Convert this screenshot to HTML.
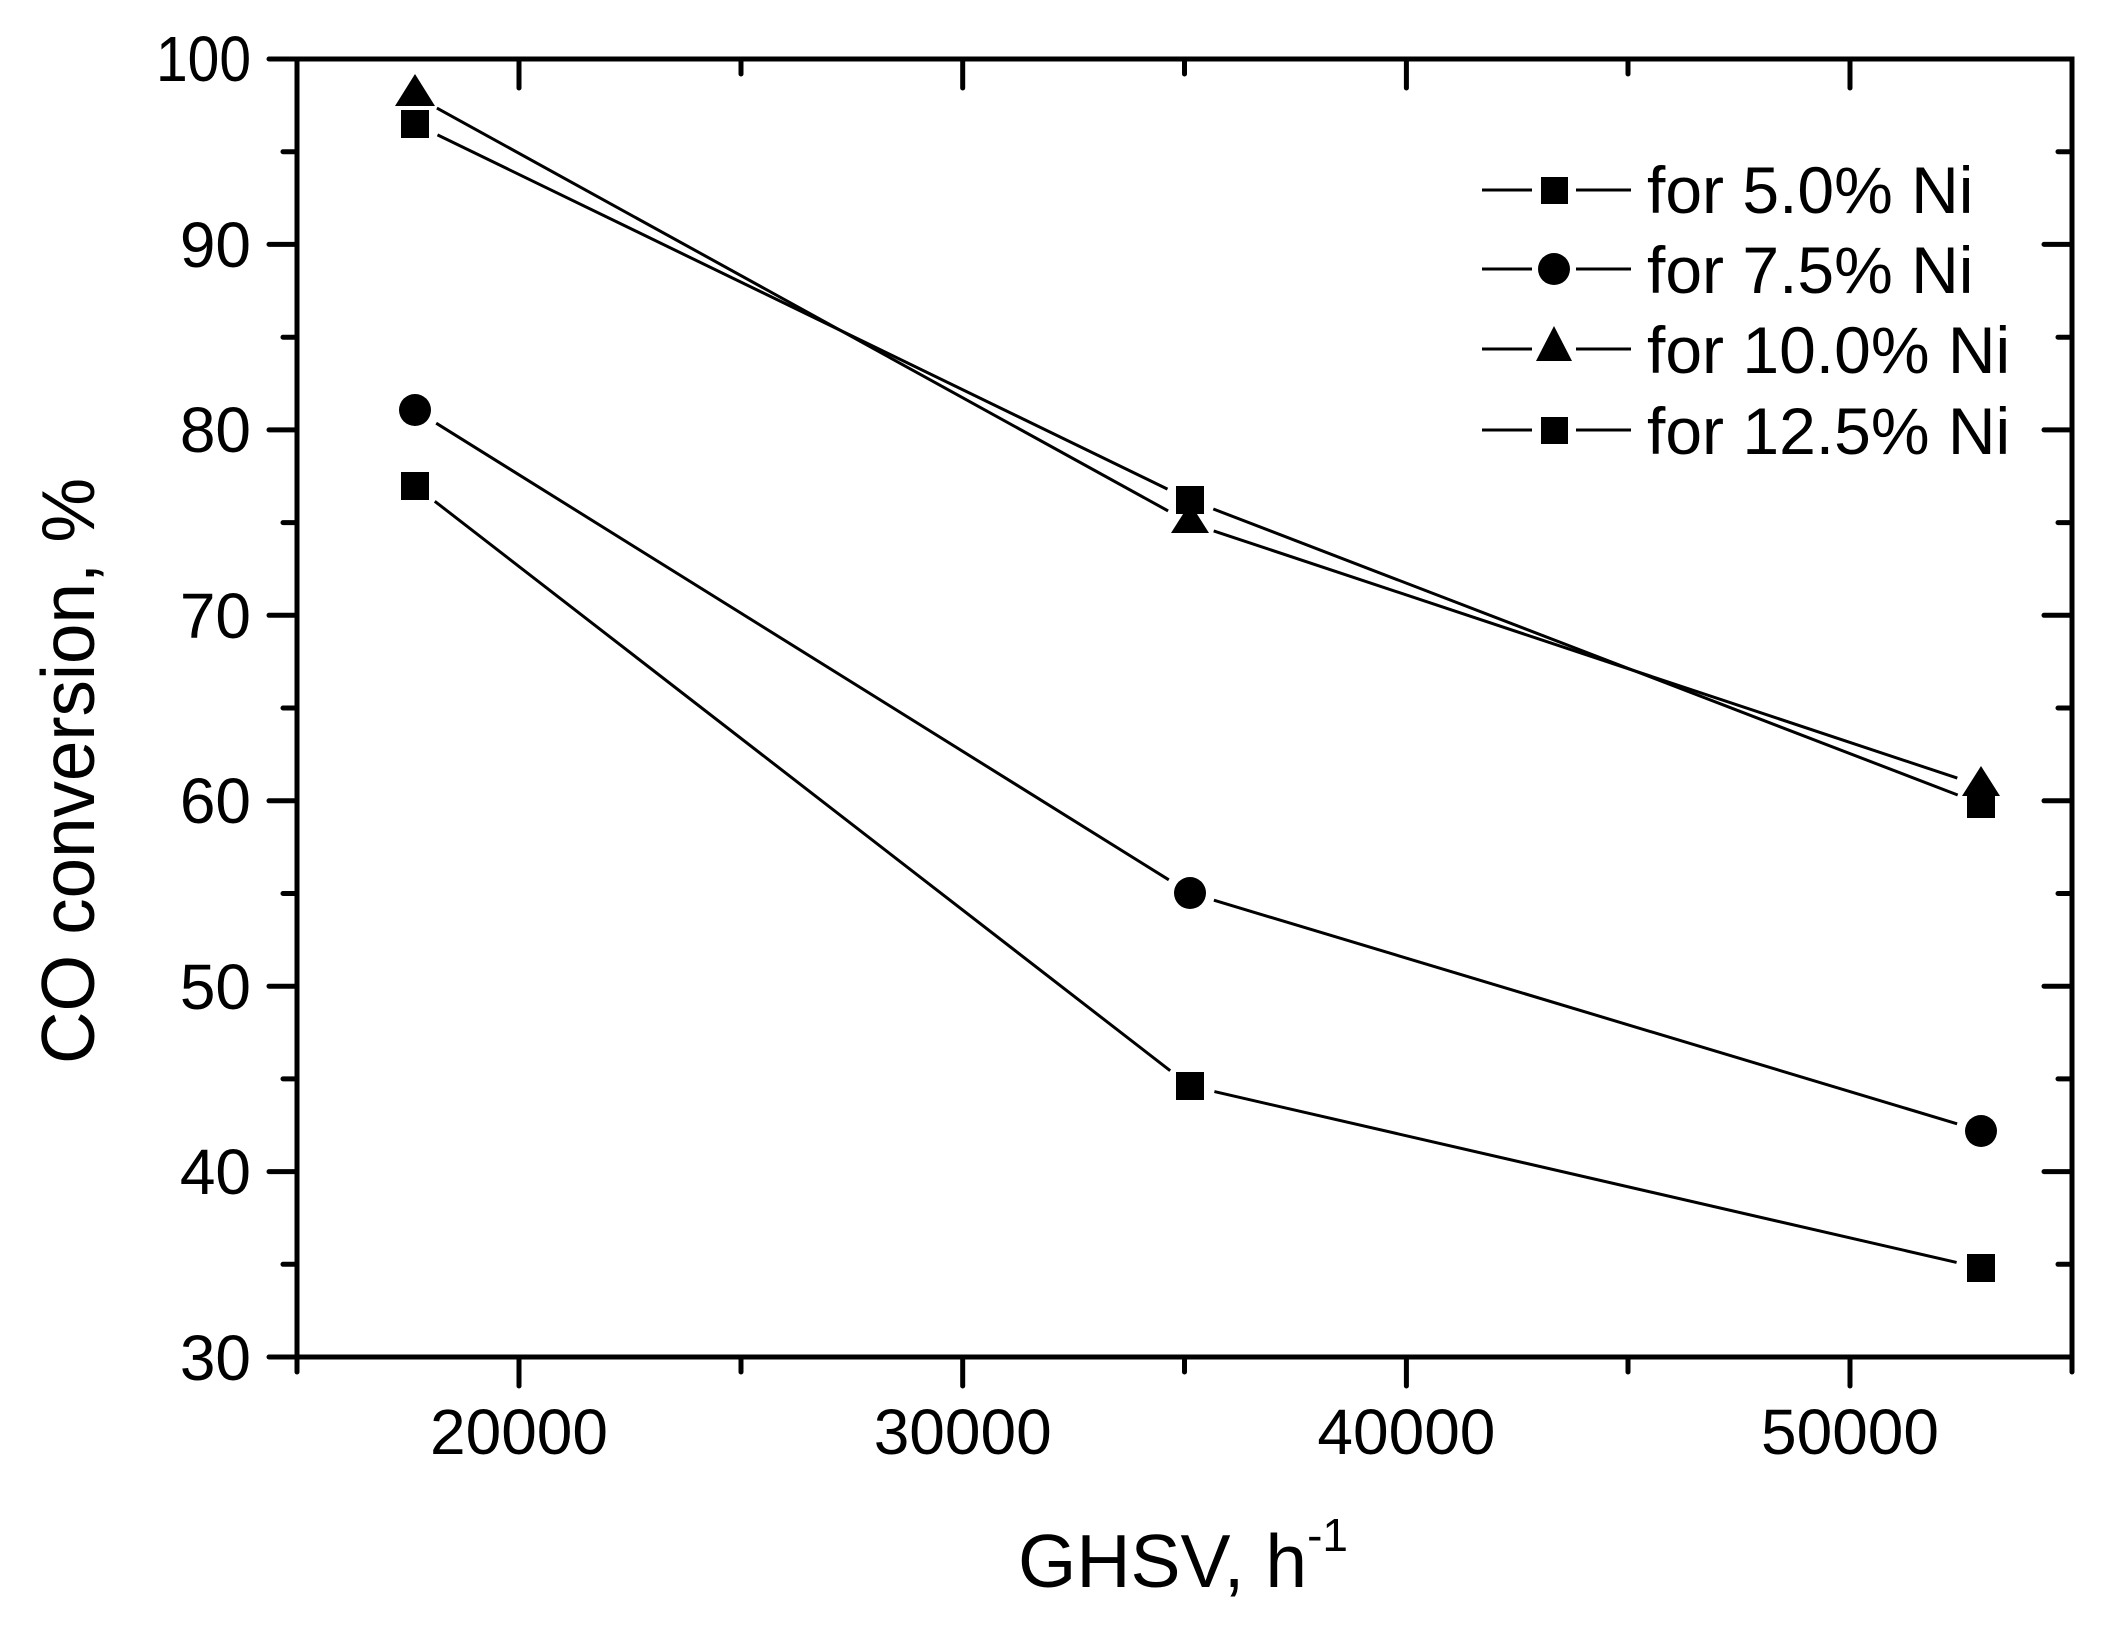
<!DOCTYPE html>
<html><head><meta charset="utf-8"><style>html,body{margin:0;padding:0;background:#fff}svg{display:block}</style></head>
<body>
<svg width="2113" height="1633" viewBox="0 0 2113 1633" xmlns="http://www.w3.org/2000/svg" font-family="Liberation Sans, Arial, sans-serif">
<rect width="2113" height="1633" fill="#fff"/>
<g stroke="#000" stroke-width="5" fill="none" stroke-linecap="round">
<rect x="297" y="59" width="1775" height="1298"/>
<path d="M269 59H297M269 244.4H297M269 429.9H297M269 615.3H297M269 800.8H297M269 986.2H297M269 1171.6H297M269 1357H297
M283 151.7H297M283 337.2H297M283 522.6H297M283 708H297M283 893.5H297M283 1078.9H297M283 1264.3H297"/>
<path d="M2044 59H2072M2044 244.4H2072M2044 429.9H2072M2044 615.3H2072M2044 800.8H2072M2044 986.2H2072M2044 1171.6H2072M2044 1357H2072
M2058 151.7H2072M2058 337.2H2072M2058 522.6H2072M2058 708H2072M2058 893.5H2072M2058 1078.9H2072M2058 1264.3H2072"/>
<path d="M519 1357V1386M962.7 1357V1386M1406.4 1357V1386M1850 1357V1386
M297 1357V1372M741 1357V1372M1184.5 1357V1372M1628 1357V1372M2072 1357V1372"/>
<path d="M519 59V88M962.7 59V88M1406.4 59V88M1850 59V88
M741 59V74M1184.5 59V74M1628 59V74"/>
</g>
<g font-size="64" fill="#000" text-anchor="end">
<text x="251" y="81" textLength="95" lengthAdjust="spacingAndGlyphs">100</text><text x="251" y="267">90</text><text x="251" y="452">80</text><text x="251" y="638">70</text><text x="251" y="823">60</text><text x="251" y="1009">50</text><text x="251" y="1194">40</text><text x="251" y="1380">30</text>
</g>
<g font-size="64" fill="#000" text-anchor="middle">
<text x="519" y="1454">20000</text><text x="962.7" y="1454">30000</text><text x="1406.4" y="1454">40000</text><text x="1850" y="1454">50000</text>
</g>
<text x="1018" y="1587" font-size="75" fill="#000">GHSV, h<tspan font-size="46" dy="-36">-1</tspan></text>
<text transform="translate(94,771) rotate(-90)" font-size="75" fill="#000" text-anchor="middle" textLength="586" lengthAdjust="spacingAndGlyphs">CO conversion, %</text>
<g stroke="#000" stroke-width="3" fill="none">
<path d="M437.5 134.9L1167.5 489.1M1213.3 509L1957.7 795"/>
<path d="M436.2 423.2L1168.8 879.8M1213.9 900.2L1957.1 1123.8"/>
<path d="M436.9 108.1L1168.1 510.9M1213.7 530.9L1957.3 778.1"/>
<path d="M434.8 501.3L1170.2 1070.7M1214.4 1091.6L1956.6 1262.4"/>
<path d="M1482 190H1532M1576 190H1631M1482 269H1532M1576 269H1631M1482 349H1532M1576 349H1631M1482 430H1532M1576 430H1631"/>
</g>
<g fill="#000">
<rect x="401" y="110" width="28" height="28"/><rect x="1176" y="486" width="28" height="28"/><rect x="1967" y="790" width="28" height="28"/>
<circle cx="415" cy="410" r="16"/><circle cx="1190" cy="893" r="16"/><circle cx="1981" cy="1131" r="16"/>
<path d="M415 74L435 106L395 106Z"/><path d="M1190 503L1209 533L1171 533Z"/><path d="M1981 766L2000 796L1962 796Z"/>
<rect x="401" y="472" width="28" height="28"/><rect x="1176" y="1072" width="28" height="28"/><rect x="1967" y="1254" width="28" height="28"/>
<rect x="1541" y="177" width="27" height="27"/>
<circle cx="1554" cy="269" r="16"/>
<path d="M1554 326L1572 361L1536 361Z"/>
<rect x="1541" y="417" width="27" height="27"/>
</g>
<g font-size="66" fill="#000">
<text x="1647" y="213">for 5.0% Ni</text>
<text x="1647" y="293">for 7.5% Ni</text>
<text x="1647" y="373">for 10.0% Ni</text>
<text x="1647" y="454">for 12.5% Ni</text>
</g>
</svg>
</body></html>
